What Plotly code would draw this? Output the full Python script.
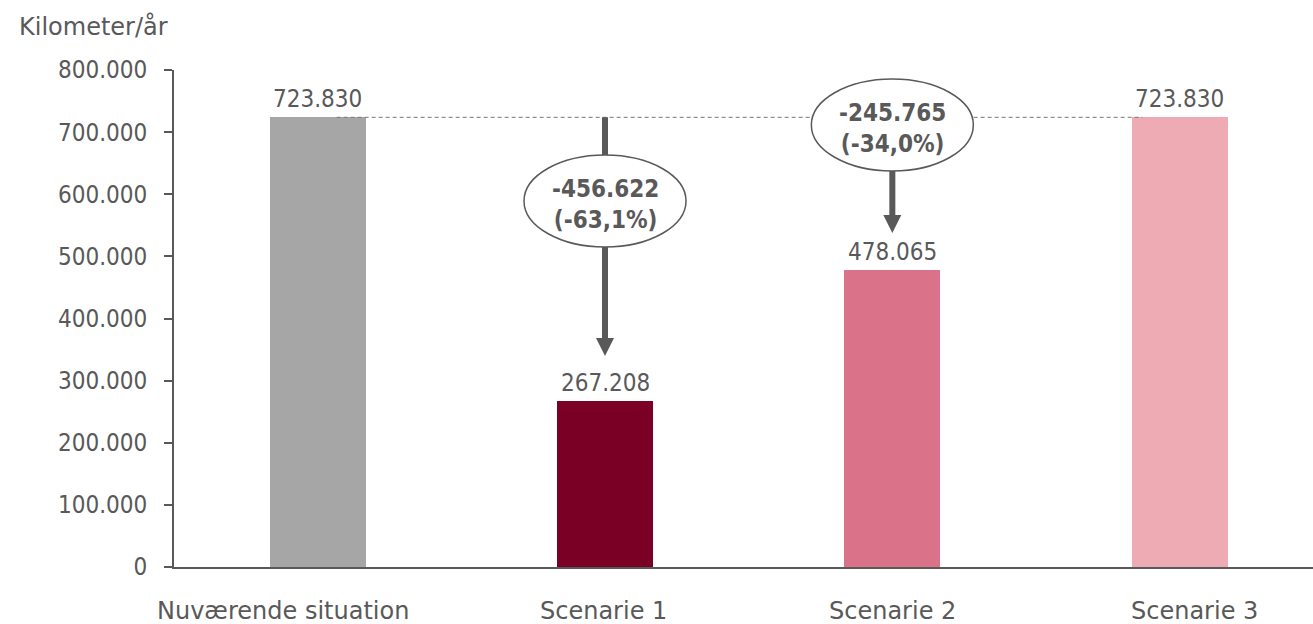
import plotly.graph_objects as go

categories = ["Nuværende situation", "Scenarie 1", "Scenarie 2", "Scenarie 3"]
values = [723830, 267208, 478065, 723830]
bar_colors = ["#A6A6A6", "#7A0026", "#DA7389", "#EFABB3"]
y_ticks = [0, 100000, 200000, 300000, 400000, 500000, 600000, 700000, 800000]
y_unit_label = "Kilometer/år"

TXT = "#595959"
FONT_NUM = "DejaVu Sans Condensed, DejaVu Sans, sans-serif"
FONT_TXT = "DejaVu Sans, sans-serif"
FS = 24


def fmt_int(v):
    s = f"{abs(int(round(v))):,}".replace(",", ".")
    return ("-" if v < 0 else "") + s


xs = list(range(len(categories)))
fig = go.Figure()
fig.add_trace(go.Bar(x=xs, y=values, marker=dict(color=bar_colors, line=dict(width=0)),
                     width=0.334, hoverinfo="skip"))

# plot geometry helpers (pixel -> data)
Y_MAX = 800000
PLOT_H = 497
PLOT_W = 1139
X_RANGE = [-0.5, 3.464]
ypx = Y_MAX / PLOT_H
xpx = (X_RANGE[1] - X_RANGE[0]) / PLOT_W

shapes = []
annotations = []
base = values[0]

# dashed reference line
shapes.append(dict(type="line", xref="x", yref="y", x0=0.066, x1=2.87, y0=base, y1=base,
                   line=dict(color="#767676", width=1, dash="4px,3px"), layer="above"))

# value labels
for x, v in zip(xs, values):
    annotations.append(dict(x=x, y=v, xref="x", yref="y", text=fmt_int(v), showarrow=False,
                            yanchor="bottom", yshift=2, font=dict(size=FS, color=TXT, family=FONT_NUM)))

# category labels (positioned like the original, outer ones shifted)
cat_shift = [-35, -2, 0, 15]
for x, c, sh in zip(xs, categories, cat_shift):
    annotations.append(dict(x=x, y=0, xref="x", yref="y", text=c, showarrow=False,
                            yanchor="top", yshift=-28, xshift=sh,
                            font=dict(size=FS, color=TXT, family=FONT_TXT)))

# change arrows with ellipses
arrow_cfg = {1: dict(gap_px=45, ell_cy_px=201), 2: dict(gap_px=37, ell_cy_px=125)}
for i, cfg in arrow_cfg.items():
    v = values[i]
    tip = v + cfg["gap_px"] * ypx
    head_h = 18 * ypx
    head_w = 9 * xpx
    shapes.append(dict(type="line", xref="x", yref="y", x0=i, x1=i, y0=base, y1=tip + head_h * 0.8,
                       line=dict(color=TXT, width=6), layer="above"))
    shapes.append(dict(type="path", xref="x", yref="y",
                       path=f"M {i - head_w},{tip + head_h} L {i + head_w},{tip + head_h} L {i},{tip} Z",
                       fillcolor=TXT, line=dict(color=TXT, width=0), layer="above"))
    cy = (567 - cfg["ell_cy_px"]) * ypx
    ry = 46 * ypx
    rx = 81 * xpx
    shapes.append(dict(type="circle", xref="x", yref="y", x0=i - rx, x1=i + rx, y0=cy - ry, y1=cy + ry,
                       fillcolor="white", line=dict(color=TXT, width=1.5), layer="above"))
    diff = v - base
    pct = diff / base * 100
    pct_s = f"{pct:.1f}".replace(".", ",")
    annotations.append(dict(x=i, y=cy, xref="x", yref="y", yshift=-3,
                            text=f"<b>{fmt_int(diff)}</b><br><b>({pct_s}%)</b>", showarrow=False,
                            font=dict(size=FS, color=TXT, family=FONT_NUM), align="center"))

annotations.append(dict(xref="paper", yref="paper", x=(17 - 174) / PLOT_W, y=(567 - 27) / PLOT_H,
                        text=y_unit_label, showarrow=False, xanchor="left", yanchor="middle",
                        font=dict(size=FS, color=TXT, family=FONT_TXT)))

fig.update_layout(
    width=1313, height=624,
    margin=dict(l=174, r=0, t=70, b=57),
    plot_bgcolor="white", paper_bgcolor="white",
    showlegend=False,
    bargap=0,
    font=dict(family=FONT_NUM, size=FS, color=TXT),
    shapes=shapes, annotations=annotations,
    xaxis=dict(range=X_RANGE, tickvals=xs, showticklabels=False, showline=True, linecolor=TXT,
               linewidth=2, ticks="", showgrid=False, zeroline=False),
    yaxis=dict(range=[0, Y_MAX], tickvals=y_ticks, ticktext=[fmt_int(t) for t in y_ticks],
               showline=True, linecolor=TXT, linewidth=2, ticks="outside", ticklen=8,
               tickcolor=TXT, tickwidth=2, showgrid=False, zeroline=False, ticklabelstandoff=12,
               tickfont=dict(size=FS, color=TXT, family=FONT_NUM)),
)

fig.write_html("out.html")
